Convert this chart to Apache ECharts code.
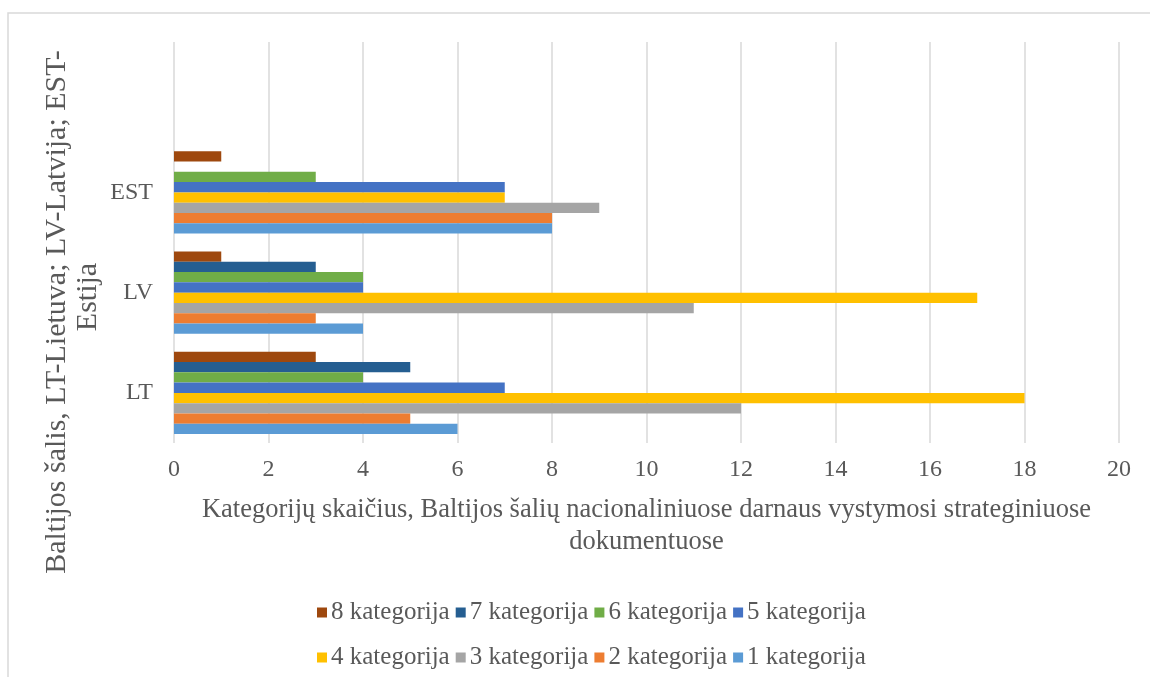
<!DOCTYPE html>
<html>
<head>
<meta charset="utf-8">
<script src="https://cdn.jsdelivr.net/npm/echarts@6/dist/echarts.min.js"></script>
<style>
  html, body { margin: 0; padding: 0; background: #fff; }
  #chart { width: 1150px; height: 677px; }
</style>
</head>
<body>
<div id="chart"></div>
<script>
// šalys (apačia -> viršus), paskutinė tuščia eilutė kaip Excel'yje
var countries = ['LT', 'LV', 'EST', ''];
var seriesNames = ['1 kategorija', '2 kategorija', '3 kategorija', '4 kategorija',
                   '5 kategorija', '6 kategorija', '7 kategorija', '8 kategorija'];
var colors = ['#5B9BD5', '#ED7D31', '#A5A5A5', '#FFC000', '#4472C4', '#70AD47', '#255E91', '#9E480E'];

// reikšmės: LT, LV, EST
var kat1 = [6, 4, 8];
var kat2 = [5, 3, 8];
var kat3 = [12, 11, 9];
var kat4 = [18, 17, 7];
var kat5 = [7, 4, 7];
var kat6 = [4, 4, 3];
var kat7 = [5, 3, 0];
var kat8 = [3, 1, 1];
var values = [kat1, kat2, kat3, kat4, kat5, kat6, kat7, kat8];

var xTicks = { min: 0, max: 20, interval: 2 };

var font = 'Liberation Serif, Times New Roman, serif';
var txt = '#595959';

var myChart = echarts.init(document.getElementById('chart'));

// echarts dėlioja pirmą seriją viršuje, todėl einam nuo 8 iki 1
var series = [];
for (var i = seriesNames.length - 1; i >= 0; i--) {
    series.push({
        name: seriesNames[i],
        type: 'bar',
        data: values[i],
        barGap: 0,
        barCategoryGap: '18%',
        itemStyle: { color: colors[i] }
    });
}

var legendStyle = {
    left: 312,
    itemWidth: 10, itemHeight: 10, itemGap: 6,
    icon: 'rect',
    textStyle: { fontFamily: font, fontSize: 25, color: txt, padding: [0, 0, 0, -1] }
};

var option = {
    backgroundColor: '#fff',
    animation: false,
    grid: { left: 174, right: 31, top: 42, bottom: 234 },
    legend: [
        Object.assign({ top: 595, data: ['8 kategorija', '7 kategorija', '6 kategorija', '5 kategorija'] }, legendStyle),
        Object.assign({ top: 640, data: ['4 kategorija', '3 kategorija', '2 kategorija', '1 kategorija'] }, legendStyle)
    ],
    xAxis: {
        type: 'value',
        min: xTicks.min, max: xTicks.max, interval: xTicks.interval,
        name: 'Kategorijų skaičius, Baltijos šalių nacionaliniuose darnaus vystymosi strateginiuose\ndokumentuose',
        nameLocation: 'middle',
        nameGap: 51,
        nameTextStyle: { fontFamily: font, fontSize: 26.5, color: txt, lineHeight: 32, verticalAlign: 'top' },
        axisLine: { show: false },
        axisTick: { show: false },
        axisLabel: { fontFamily: font, fontSize: 24, color: txt, margin: 15 },
        splitLine: { lineStyle: { color: '#d9d9d9', width: 1.5 } }
    },
    yAxis: {
        type: 'category',
        data: countries,
        axisLine: { show: false },
        axisTick: { show: false },
        axisLabel: { fontFamily: font, fontSize: 24, color: txt, margin: 21 }
    },
    graphic: [
        {
            type: 'rect',
            shape: { x: 8, y: 13, width: 1200, height: 700 },
            style: { fill: 'none', stroke: '#d9d9d9', lineWidth: 1.5 },
            silent: true
        },
        {
            type: 'text',
            x: 57, y: 312, rotation: Math.PI / 2,
            style: {
                text: 'Baltijos šalis, LT-Lietuva; LV-Latvija; EST-',
                fontFamily: font, fontSize: 30, fill: txt,
                align: 'center', verticalAlign: 'middle'
            }
        },
        {
            type: 'text',
            x: 88, y: 297, rotation: Math.PI / 2,
            style: {
                text: 'Estija',
                fontFamily: font, fontSize: 30, fill: txt,
                align: 'center', verticalAlign: 'middle'
            }
        }
    ],
    series: series
};

myChart.setOption(option);
</script>
</body>
</html>
